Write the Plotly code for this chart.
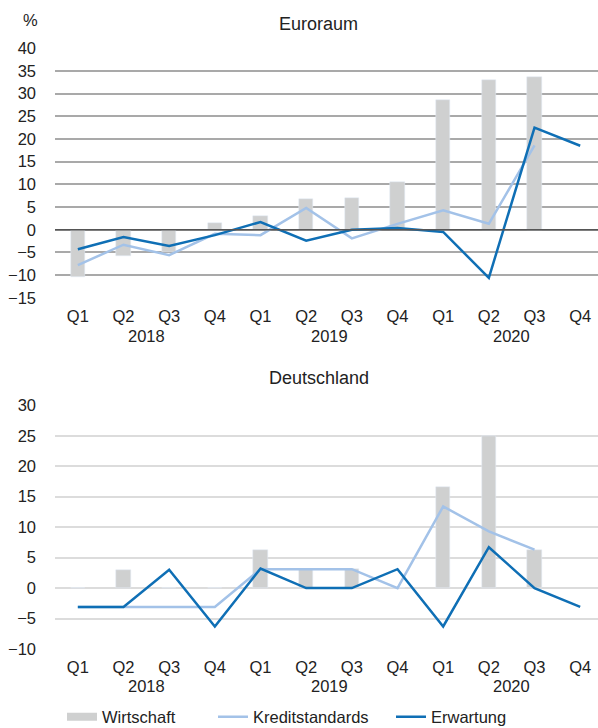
import plotly.graph_objects as go
from plotly.subplots import make_subplots

quarters = ["Q1", "Q2", "Q3", "Q4"] * 3
years = ["2018", "2019", "2020"]

eu_wirtschaft = [-10.4, -5.9, -5.0, 1.5, 3.1, 6.7, 6.9, 10.6, 28.6, 33.1, 33.7, None]
eu_kredit = [-7.8, -3.3, -5.6, -0.9, -1.2, 4.8, -1.9, 1.3, 4.3, 1.3, 18.6, None]
eu_erwartung = [-4.3, -1.6, -3.6, -1.2, 1.7, -2.4, 0.0, 0.4, -0.5, -10.6, 22.5, 18.5]

de_wirtschaft = [0, 2.9, 0, 0, 6.3, 3.1, 3.1, 0, 16.6, 25.0, 6.3, None]
de_kredit = [-3.1, -3.1, -3.1, -3.1, 3.1, 3.1, 3.1, 0.0, 13.4, 9.3, 6.3, None]
de_erwartung = [-3.1, -3.1, 3.0, -6.3, 3.2, 0.0, 0.0, 3.1, -6.3, 6.7, 0.0, -3.1]

xs = list(range(len(quarters)))

BAR = "#cfd0d0"
LIGHT = "#a3c2e8"
DARK = "#0f6fb5"
FONT = "Liberation Sans"
FS = 16.5
W, H = 598, 728

fig = make_subplots(rows=2, cols=1)

for row, (w, k, e) in enumerate([(eu_wirtschaft, eu_kredit, eu_erwartung),
                                 (de_wirtschaft, de_kredit, de_erwartung)], start=1):
    fig.add_trace(go.Bar(x=xs, y=w, marker_color=BAR, width=0.31, showlegend=False,
                         name="Wirtschaft"), row=row, col=1)
    fig.add_trace(go.Scatter(x=xs, y=k, mode="lines", line=dict(color=LIGHT, width=2.5),
                             showlegend=False, name="Kreditstandards"), row=row, col=1)
    fig.add_trace(go.Scatter(x=xs, y=e, mode="lines", line=dict(color=DARK, width=2.5),
                             showlegend=False, name="Erwartung"), row=row, col=1)

# legend entries (one legend each, to place them like the original)
fig.add_trace(go.Scatter(x=[None], y=[None], mode="lines", line=dict(color=BAR, width=8),
                         name="Wirtschaft", legend="legend"), row=1, col=1)
fig.add_trace(go.Scatter(x=[None], y=[None], mode="lines", line=dict(color=LIGHT, width=2.5),
                         name="Kreditstandards", legend="legend2"), row=1, col=1)
fig.add_trace(go.Scatter(x=[None], y=[None], mode="lines", line=dict(color=DARK, width=2.5),
                         name="Erwartung", legend="legend3"), row=1, col=1)

top_dom = [1 - 298 / H, 1 - 48 / H]
bot_dom = [1 - 649.3 / H, 1 - 405 / H]

xaxis_common = dict(range=[-0.5, 11.39], tickmode="array", tickvals=xs, ticktext=quarters,
                    showgrid=False, zeroline=False, showline=False, ticks="",
                    tickfont=dict(family=FONT, size=FS, color="#222"),
                    ticklabelstandoff=6, automargin=False)

yaxis_common = dict(dtick=5, tick0=0, showgrid=True, gridwidth=1.5,
                    zeroline=False, showline=False, ticks="", automargin=False,
                    tickfont=dict(family=FONT, size=FS, color="#222"), ticklabelstandoff=18)

def leg(xpx):
    return dict(orientation="h", x=xpx / W, xanchor="left", xref="container",
                y=(H - 717) / H, yanchor="middle", yref="container",
                font=dict(family=FONT, size=FS, color="#222"),
                bgcolor="rgba(0,0,0,0)", borderwidth=0)

fig.update_layout(
    width=W, height=H,
    margin=dict(l=55, r=0, t=0, b=0, autoexpand=False),
    plot_bgcolor="white", paper_bgcolor="white",
    bargap=0,
    font=dict(family=FONT, size=FS, color="#222"),
    xaxis=dict(**xaxis_common, domain=[0, 1]),
    xaxis2=dict(**xaxis_common, domain=[0, 1]),
    yaxis=dict(**yaxis_common, domain=top_dom, range=[-15.05, 40.05], gridcolor="#a9a9a9"),
    yaxis2=dict(**yaxis_common, domain=bot_dom, range=[-10.05, 30.05], gridcolor="#dcdcdc"),
    legend=leg(62),
    legend2=leg(213),
    legend3=leg(391),
)

# zero line of the top chart drawn above bars
fig.add_shape(type="line", xref="x domain", yref="y", x0=0, x1=1, y0=0, y1=0,
              line=dict(color="#555555", width=1.5), layer="above")

ann = []
def paper_x(px):
    return (px - 55) / 543

TS = 18
ann.append(dict(text="Euroraum", x=paper_x(318), y=1 - 24 / H, xref="paper", yref="paper",
                showarrow=False, xanchor="center", yanchor="middle", font=dict(size=TS)))
ann.append(dict(text="Deutschland", x=paper_x(319), y=1 - 378 / H, xref="paper", yref="paper",
                showarrow=False, xanchor="center", yanchor="middle", font=dict(size=TS)))
ann.append(dict(text="%", x=paper_x(30), y=1 - 20 / H, xref="paper", yref="paper",
                showarrow=False, xanchor="center", yanchor="middle", font=dict(size=FS)))
for i, yr in enumerate(years):
    ann.append(dict(text=yr, x=4 * i + 1.5, y=1 - 336 / H, xref="x", yref="paper",
                    showarrow=False, xanchor="center", yanchor="middle", font=dict(size=FS)))
    ann.append(dict(text=yr, x=4 * i + 1.5, y=1 - 686 / H, xref="x2", yref="paper",
                    showarrow=False, xanchor="center", yanchor="middle", font=dict(size=FS)))
fig.update_layout(annotations=ann)

fig.write_html("out.html", config={"displayModeBar": False},
               post_script="document.body.style.margin='0px';document.body.style.overflow='hidden';")
